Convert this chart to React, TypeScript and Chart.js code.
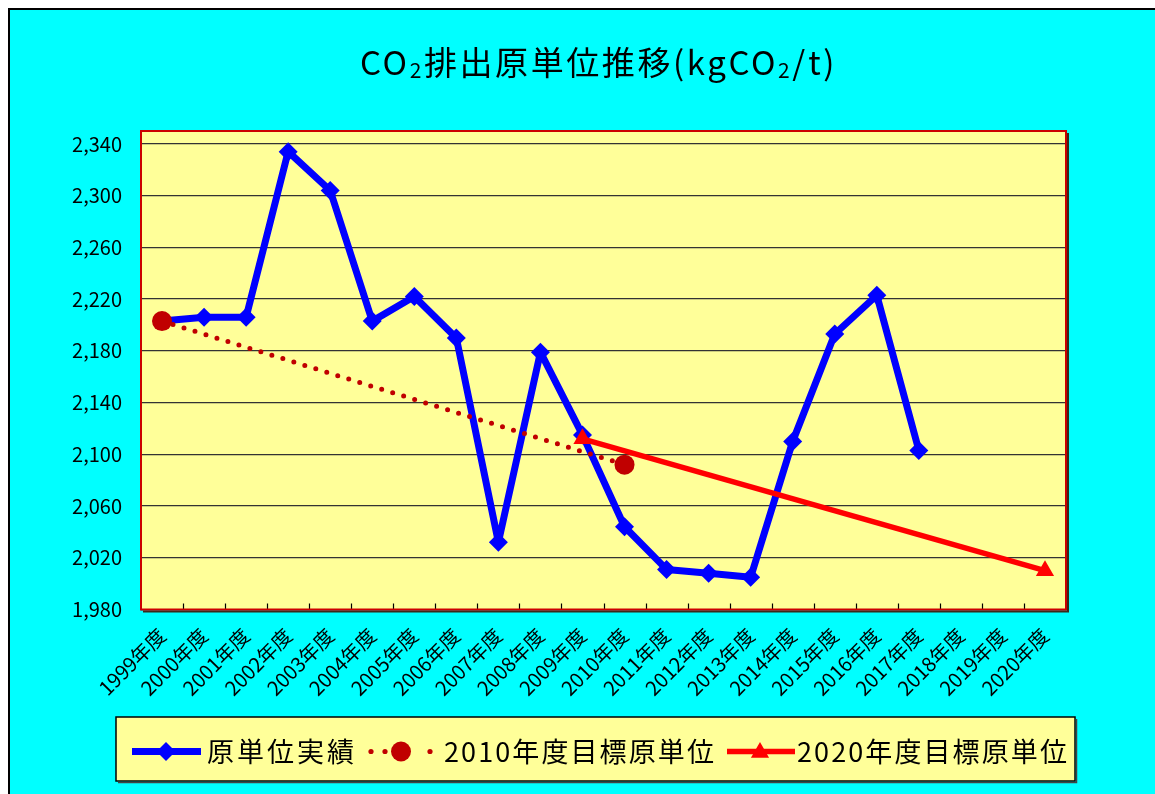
import React, { useEffect, useRef } from 'react';
import { Chart, registerables } from 'chart.js';

Chart.register(...registerables);

const FONT = '"Noto Sans CJK JP", "Noto Sans", sans-serif';

const categories = [
  '1999年度', '2000年度', '2001年度', '2002年度', '2003年度', '2004年度',
  '2005年度', '2006年度', '2007年度', '2008年度', '2009年度', '2010年度',
  '2011年度', '2012年度', '2013年度', '2014年度', '2015年度', '2016年度',
  '2017年度', '2018年度', '2019年度', '2020年度',
];

const actual: (number | null)[] = [
  2203, 2206, 2206, 2334, 2304, 2203, 2222, 2190, 2032, 2179, 2115, 2044,
  2011, 2008, 2005, 2110, 2193, 2223, 2103, null, null, null,
];

const target2010: (number | null)[] = [
  2203, null, null, null, null, null, null, null, null, null, null, 2092,
  null, null, null, null, null, null, null, null, null, null,
];

const target2020: (number | null)[] = [
  null, null, null, null, null, null, null, null, null, null, 2112, null,
  null, null, null, null, null, null, null, null, null, 2010,
];

const yTicks = [1980, 2020, 2060, 2100, 2140, 2180, 2220, 2260, 2300, 2340];

const seriesLabels = ['原単位実績', '2010年度目標原単位', '2020年度目標原単位'];
const titleParts = [
  { t: 'CO', sub: false },
  { t: '2', sub: true },
  { t: '排出原単位推移(kgCO', sub: false },
  { t: '2', sub: true },
  { t: '/t)', sub: false },
];

const BLUE = '#0000FF';
const DARKRED = '#C00000';
const RED = '#FF0000';

function diamond(ctx: CanvasRenderingContext2D, x: number, y: number, r: number, c: string) {
  ctx.beginPath();
  ctx.moveTo(x, y - r);
  ctx.lineTo(x + r, y);
  ctx.lineTo(x, y + r);
  ctx.lineTo(x - r, y);
  ctx.closePath();
  ctx.fillStyle = c;
  ctx.fill();
}
function circle(ctx: CanvasRenderingContext2D, x: number, y: number, r: number, c: string) {
  ctx.beginPath();
  ctx.arc(x, y, r, 0, Math.PI * 2);
  ctx.fillStyle = c;
  ctx.fill();
}
function triangle(ctx: CanvasRenderingContext2D, x: number, y: number, r: number, c: string) {
  const s = Math.sin((2 * Math.PI) / 3) * r;
  ctx.beginPath();
  ctx.moveTo(x, y - r);
  ctx.lineTo(x + s, y + r / 2);
  ctx.lineTo(x - s, y + r / 2);
  ctx.closePath();
  ctx.fillStyle = c;
  ctx.fill();
}

function fitText(ctx: CanvasRenderingContext2D, text: string, x: number, y: number, target: number) {
  (ctx as any).letterSpacing = '0px';
  const w0 = ctx.measureText(text).width;
  const n = Array.from(text).length;
  const sp = (target - w0) / n;
  (ctx as any).letterSpacing = sp + 'px';
  ctx.fillText(text, x, y);
  (ctx as any).letterSpacing = '0px';
}

const decorPlugin = {
  id: 'decor',
  beforeDraw(chart: any) {
    const { ctx, chartArea: a } = chart;
    ctx.save();
    ctx.fillStyle = '#FFFF99';
    ctx.fillRect(a.left, a.top, a.right - a.left, a.bottom - a.top);
    ctx.restore();
  },
  beforeDatasetsDraw(chart: any) {
    const { ctx, chartArea: a } = chart;
    const n = categories.length;
    const w = (a.right - a.left) / n;
    ctx.save();
    ctx.strokeStyle = '#000';
    ctx.lineWidth = 1.2;
    ctx.beginPath();
    for (let i = 1; i < n; i++) {
      const px = Math.round(a.left + i * w) + 0.5;
      ctx.moveTo(px, a.bottom - 6);
      ctx.lineTo(px, a.bottom);
    }
    ctx.stroke();
    ctx.strokeStyle = '#3a2a1a';
    ctx.lineWidth = 2;
    ctx.beginPath();
    ctx.moveTo(a.left + 2, a.bottom + 2);
    ctx.lineTo(a.right + 2, a.bottom + 2);
    ctx.lineTo(a.right + 2, a.top + 2);
    ctx.stroke();
    ctx.strokeStyle = '#CC0000';
    ctx.lineWidth = 2;
    ctx.strokeRect(a.left, a.top, a.right - a.left, a.bottom - a.top);
    ctx.restore();
  },
  afterDraw(chart: any) {
    const ctx: CanvasRenderingContext2D = chart.ctx;
    ctx.save();
    // title
    const big = 33;
    const small = 21;
    const targetW = 477;
    let w0 = 0;
    let nChars = 0;
    const widths: number[] = [];
    for (const p of titleParts) {
      ctx.font = `${p.sub ? small : big}px ${FONT}`;
      const w = ctx.measureText(p.t).width;
      widths.push(w);
      w0 += w;
      nChars += Array.from(p.t).length;
    }
    const sp = (targetW - w0) / nChars;
    let x = 588.5 - targetW / 2;
    ctx.fillStyle = '#000';
    ctx.textAlign = 'left';
    ctx.textBaseline = 'alphabetic';
    titleParts.forEach((p, i) => {
      ctx.font = `${p.sub ? small : big}px ${FONT}`;
      (ctx as any).letterSpacing = sp + 'px';
      ctx.fillText(p.t, x, p.sub ? 68 : 65);
      x += widths[i] + Array.from(p.t).length * sp;
    });
    (ctx as any).letterSpacing = '0px';

    // legend box
    const bx = 106, by = 707, bw = 959, bh = 64;
    ctx.fillStyle = '#FFFF99';
    ctx.fillRect(bx, by, bw, bh);
    ctx.strokeStyle = '#000';
    ctx.lineWidth = 1.5;
    ctx.strokeRect(bx, by, bw, bh);
    ctx.strokeStyle = '#444';
    ctx.lineWidth = 1.5;
    ctx.beginPath();
    ctx.moveTo(bx + 2, by + bh + 1.5);
    ctx.lineTo(bx + bw + 1.5, by + bh + 1.5);
    ctx.lineTo(bx + bw + 1.5, by + 2);
    ctx.stroke();

    const ly = 741.5;
    ctx.strokeStyle = BLUE;
    ctx.lineWidth = 7;
    ctx.lineCap = 'butt';
    ctx.beginPath();
    ctx.moveTo(122, ly);
    ctx.lineTo(191, ly);
    ctx.stroke();
    diamond(ctx, 156, ly, 9.5, BLUE);
    [361, 375, 420].forEach((dx) => circle(ctx, dx, ly, 2.6, DARKRED));
    circle(ctx, 391, ly, 10, DARKRED);
    ctx.strokeStyle = RED;
    ctx.lineWidth = 5.5;
    ctx.beginPath();
    ctx.moveTo(717, ly);
    ctx.lineTo(785, ly);
    ctx.stroke();
    triangle(ctx, 750, ly + 1, 10.5, RED);

    ctx.fillStyle = '#000';
    ctx.font = `27px ${FONT}`;
    ctx.textBaseline = 'middle';
    ctx.textAlign = 'left';
    fitText(ctx, seriesLabels[0], 197, ly, 150);
    fitText(ctx, seriesLabels[1], 434, ly, 272);
    fitText(ctx, seriesLabels[2], 787, ly, 272);
    ctx.restore();
  },
};

export default function App() {
  const ref = useRef<HTMLCanvasElement>(null);
  useEffect(() => {
    document.documentElement.style.overflow = 'hidden';
    document.body.style.overflow = 'hidden';
    const chart = new Chart(ref.current as HTMLCanvasElement, {
      type: 'line',
      data: {
        labels: categories,
        datasets: [
          {
            label: seriesLabels[0],
            data: actual,
            borderColor: BLUE,
            backgroundColor: BLUE,
            borderWidth: 7,
            borderJoinStyle: 'round',
            pointStyle: 'rectRot',
            pointRadius: 9.5,
            pointBorderWidth: 0,
            pointBackgroundColor: BLUE,
            tension: 0,
            order: 3,
          },
          {
            label: seriesLabels[1],
            data: target2010,
            borderColor: DARKRED,
            backgroundColor: DARKRED,
            borderWidth: 5,
            borderDash: [0, 11.5],
            borderCapStyle: 'round',
            pointStyle: 'circle',
            pointRadius: 10,
            pointBorderWidth: 0,
            pointBackgroundColor: DARKRED,
            spanGaps: true,
            order: 2,
          },
          {
            label: seriesLabels[2],
            data: target2020,
            borderColor: RED,
            backgroundColor: RED,
            borderWidth: 5.5,
            pointStyle: 'triangle',
            pointRadius: 10.5,
            pointBorderWidth: 0,
            pointBackgroundColor: RED,
            spanGaps: true,
            order: 1,
          },
        ] as any,
      },
      options: {
        responsive: false,
        animation: false,
        devicePixelRatio: 1,
        layout: { padding: { left: 0, right: 89, top: 121, bottom: 84.5 } },
        plugins: {
          legend: { display: false },
          title: { display: false },
          tooltip: { enabled: false },
        },
        scales: {
          x: {
            type: 'category',
            offset: true,
            grid: { display: false, drawTicks: false },
            border: { display: false },
            ticks: {
              color: '#000',
              font: { family: FONT, size: 20 },
              maxRotation: 45,
              minRotation: 45,
              autoSkip: false,
              padding: 14,
            },
            afterFit: (s: any) => {
              s.height = 100;
            },
          },
          y: {
            min: 1980,
            max: 2350,
            afterBuildTicks: (s: any) => {
              s.ticks = yTicks.map((v) => ({ value: v }));
            },
            grid: { color: '#333333', lineWidth: 1.3, drawTicks: false },
            border: { display: false },
            ticks: {
              color: '#000',
              font: { family: FONT, size: 20 },
              padding: 19,
              callback: (v: any) => Number(v).toLocaleString('en-US'),
            },
            afterFit: (s: any) => {
              s.width = 131;
            },
          },
        },
      } as any,
      plugins: [decorPlugin],
    });
    return () => chart.destroy();
  }, []);

  return (
    <div
      style={{
        position: 'fixed',
        left: 8,
        top: 8,
        width: 1147,
        height: 786,
        boxSizing: 'border-box',
        borderTop: '2px solid #000',
        borderLeft: '2px solid #000',
        background: '#00FFFF',
      }}
    >
      <canvas ref={ref} width={1145} height={784} style={{ display: 'block', width: 1145, height: 784 }} />
    </div>
  );
}
